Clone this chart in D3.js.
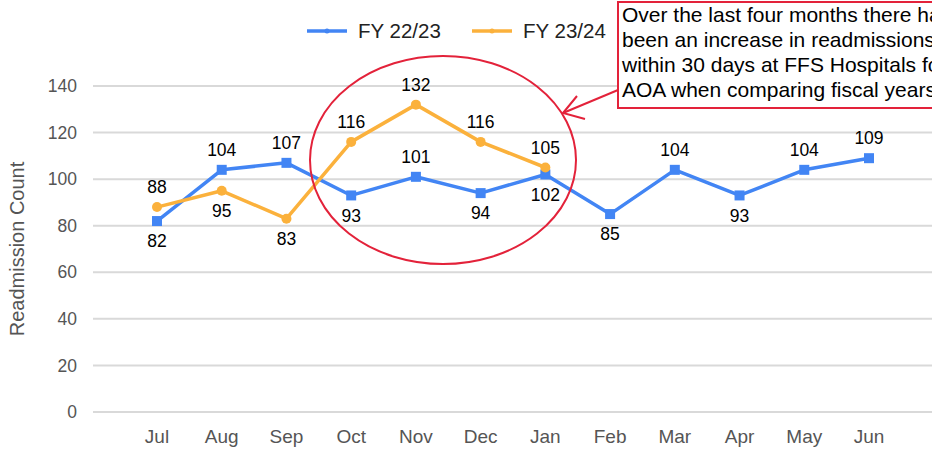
<!DOCTYPE html>
<html>
<head>
<meta charset="utf-8">
<script src="https://cdn.jsdelivr.net/npm/d3@7"></script>
<style>
  html, body { margin: 0; padding: 0; background: #fff; }
  svg { display: block; font-family: Arial, "Liberation Sans", sans-serif; }
</style>
</head>
<body>
<svg id="chart" width="932" height="449"></svg>
<script>
const months = ["Jul","Aug","Sep","Oct","Nov","Dec","Jan","Feb","Mar","Apr","May","Jun"];
const fy2223 = [82,104,107,93,101,94,102,85,104,93,104,109];
const fy2324 = [88,95,83,116,132,116,105];
const yTicks = [0,20,40,60,80,100,120,140];
const seriesNames = ["FY 22/23","FY 23/24"];
// label side: -1 above, +1 below
const side2223 = [1,-1,-1,1,-1,1,1,1,-1,1,-1,-1];
const side2324 = [-1,1,1,-1,-1,-1,-1];
const annotationLines = [
  "Over the last four months there has",
  "been an increase in readmissions",
  "within 30 days at FFS Hospitals for",
  "AOA when comparing fiscal years."
];

const W = 932, H = 449;
const svg = d3.select("#chart");
const blue = "#4285F4", orange = "#FBB13C", red = "#E3223A";
const gridLeft = 93;

const x = d3.scalePoint().domain(months).range([157, 869]);
const y = d3.scaleLinear().domain([0, 140]).range([412, 86]);

// gridlines
svg.append("g").selectAll("line").data(yTicks).join("line")
  .attr("x1", gridLeft).attr("x2", W)
  .attr("y1", d => y(d)).attr("y2", d => y(d))
  .attr("stroke", "#d9d9d9").attr("stroke-width", 2);

// y tick labels
svg.append("g").selectAll("text").data(yTicks).join("text")
  .attr("x", 77).attr("y", d => y(d)).attr("dy", "0.35em")
  .attr("text-anchor", "end").attr("font-size", 17.5).attr("fill", "#555")
  .text(d => d);

// x tick labels
svg.append("g").selectAll("text").data(months).join("text")
  .attr("x", d => x(d)).attr("y", 436).attr("dy", "0.35em")
  .attr("text-anchor", "middle").attr("font-size", 19).attr("fill", "#555")
  .text(d => d);

// y title
svg.append("text")
  .attr("transform", "translate(24,249) rotate(-90)")
  .attr("text-anchor", "middle").attr("font-size", 20).attr("fill", "#555")
  .text("Readmission Count");

const line = d3.line().x((d, i) => x(months[i])).y(d => y(d));

function drawSeries(vals, color, shape, sides) {
  const g = svg.append("g");
  g.append("path").datum(vals).attr("d", line)
    .attr("fill", "none").attr("stroke", color).attr("stroke-width", 3.5)
    .attr("stroke-linejoin", "round");
  if (shape === "square") {
    g.selectAll("rect").data(vals).join("rect")
      .attr("x", (d, i) => x(months[i]) - 5).attr("y", d => y(d) - 5)
      .attr("width", 10).attr("height", 10).attr("fill", color);
  } else {
    g.selectAll("circle").data(vals).join("circle")
      .attr("cx", (d, i) => x(months[i])).attr("cy", d => y(d))
      .attr("r", 5).attr("fill", color);
  }
  g.selectAll("text").data(vals).join("text")
    .attr("x", (d, i) => x(months[i]))
    .attr("y", (d, i) => y(d) + sides[i] * 20)
    .attr("dy", "0.35em")
    .attr("text-anchor", "middle").attr("font-size", 17.5).attr("fill", "#000")
    .text(d => d);
}
drawSeries(fy2223, blue, "square", side2223);
drawSeries(fy2324, orange, "circle", side2324);

// legend
const legend = svg.append("g");
const legX = [307, 472];
[blue, orange].forEach((c, i) => {
  legend.append("line").attr("x1", legX[i]).attr("x2", legX[i] + 40)
    .attr("y1", 31).attr("y2", 31).attr("stroke", c).attr("stroke-width", 3.5);
  legend.append("circle").attr("cx", legX[i] + 20).attr("cy", 31).attr("r", 2.5).attr("fill", c);
  legend.append("text").attr("x", legX[i] + 51).attr("y", 31).attr("dy", "0.35em")
    .attr("font-size", 20.5).attr("fill", "#222").text(seriesNames[i]);
});

// annotation ellipse
svg.append("ellipse").attr("cx", 443).attr("cy", 160).attr("rx", 133).attr("ry", 104)
  .attr("fill", "none").attr("stroke", red).attr("stroke-width", 2);

// arrow
svg.append("line").attr("x1", 618).attr("y1", 90).attr("x2", 563).attr("y2", 113)
  .attr("stroke", red).attr("stroke-width", 2);
svg.append("polyline").attr("points", "577,96 563,113 585,119")
  .attr("fill", "none").attr("stroke", red).attr("stroke-width", 2);

// annotation box
svg.append("rect").attr("x", 618).attr("y", 2).attr("width", 340).attr("height", 106)
  .attr("fill", "#fff").attr("stroke", red).attr("stroke-width", 2);
svg.append("g").selectAll("text").data(annotationLines).join("text")
  .attr("x", 622).attr("y", (d, i) => 22 + i * 25)
  .attr("font-size", 21).attr("fill", "#000").text(d => d);
</script>
</body>
</html>
